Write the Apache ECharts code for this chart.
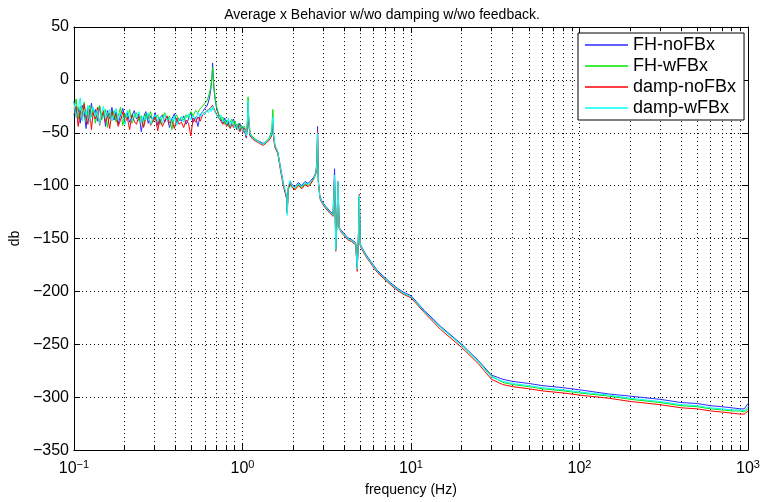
<!DOCTYPE html>
<html>
<head>
<meta charset="utf-8">
<title>Average x Behavior</title>
<script src="https://cdn.jsdelivr.net/npm/echarts@6/dist/echarts.min.js"></script>
<style>
  html, body { margin: 0; padding: 0; background: #fff; }
  #chart { width: 764px; height: 502px; }
</style>
</head>
<body>
<div id="chart"></div>
<script>
// frequency points (Hz), shared by all four traces
const freq = [
  0.100, 0.103, 0.106, 0.109, 0.112, 0.115, 0.118, 0.121, 0.124, 0.127,
  0.130, 0.134, 0.138, 0.142, 0.146, 0.150, 0.154, 0.158, 0.163, 0.168,
  0.173, 0.178, 0.183, 0.189, 0.195, 0.201, 0.207, 0.214, 0.221, 0.228,
  0.235, 0.243, 0.251, 0.259, 0.267, 0.276, 0.285, 0.294, 0.304, 0.314,
  0.324, 0.335, 0.346, 0.357, 0.369, 0.381, 0.394, 0.407, 0.420, 0.434,
  0.448, 0.463, 0.478, 0.494, 0.510, 0.527, 0.544, 0.562, 0.580, 0.598,
  0.614, 0.628, 0.642, 0.652, 0.660, 0.665, 0.670, 0.678, 0.690, 0.705,
  0.725, 0.745, 0.765, 0.785, 0.805, 0.825, 0.845, 0.865, 0.885, 0.905,
  0.925, 0.945, 0.965, 0.985, 1.005, 1.030, 1.055, 1.070, 1.080, 1.090,
  1.110, 1.150, 1.200, 1.260, 1.320, 1.380, 1.440, 1.490, 1.515, 1.530,
  1.560, 1.620, 1.680, 1.750, 1.800, 1.830, 1.845, 1.870, 1.920, 1.970,
  2.050, 2.150, 2.250, 2.350, 2.450, 2.550, 2.650, 2.730, 2.770, 2.790,
  2.820, 2.880, 2.950, 3.100, 3.300, 3.450, 3.520, 3.580, 3.640, 3.690,
  3.750, 3.850, 4.000, 4.200, 4.450, 4.700, 4.800, 4.870, 4.940, 5.000,
  5.100, 5.400, 5.800, 6.300, 6.900, 7.600, 8.300, 9.100, 10.00, 12.00,
  15.00, 20.00, 25.00, 30.00, 35.00, 40.00, 50.00, 60.00, 80.00, 100.0,
  150.0, 200.0, 300.0, 400.0, 500.0, 600.0, 700.0, 800.0, 900.0, 950.0,
  1000
]

// db values
const fhNoFb = [
  -20, -34, -26, -41, -24, -30, -46, -27, -36, -22,
  -33, -28, -39, -25, -35, -31, -44, -29, -37, -26,
  -38, -30, -42, -33, -27, -36, -31, -40, -34, -29,
  -37, -32, -49, -35, -30, -41, -34, -38, -31, -43,
  -36, -33, -40, -35, -45, -37, -32, -41, -36, -39,
  -34, -42, -37, -31, -40, -35, -44, -33, -30, -27,
  -25, -21, -14, -6, 3, 16, 5, -9, -20, -28,
  -34, -37, -41, -36, -43, -39, -45, -40, -37, -44,
  -42, -46, -41, -47, -44, -49, -55, -42, -22, -40,
  -52, -55, -57, -58, -60, -59, -56, -52, -40, -54,
  -62, -68, -82, -98, -108, -112, -125, -102, -96, -99,
  -101, -97, -100, -96, -98, -95, -92, -87, -75, -44,
  -95, -110, -114, -119, -124, -127, -84, -160, -132, -97,
  -140, -142, -145, -149, -151, -154, -178, -150, -110, -155,
  -158, -165, -172, -180, -186, -192, -197, -201, -204, -218,
  -233, -250, -265, -279, -283, -285, -287, -289, -291, -293,
  -297, -299, -302, -305, -306, -308, -309, -310, -311, -311,
  -306
]
const fhWFb = [
  -28, -18, -37, -25, -33, -21, -39, -30, -24, -35,
  -27, -41, -30, -24, -38, -33, -28, -45, -31, -36,
  -29, -40, -34, -26, -43, -32, -37, -28, -41, -35,
  -31, -39, -34, -44, -32, -37, -30, -40, -36, -33,
  -42, -35, -31, -38, -34, -47, -36, -33, -39, -35,
  -38, -33, -36, -30, -34, -29, -31, -27, -25, -22,
  -20, -16, -10, -4, 4, 12, 3, -8, -18, -26,
  -33, -38, -35, -42, -38, -44, -40, -37, -43, -39,
  -45, -41, -48, -43, -46, -44, -52, -38, -16, -35,
  -50, -54, -56, -59, -61, -58, -55, -48, -28, -50,
  -63, -70, -84, -100, -106, -110, -122, -104, -99, -102,
  -103, -99, -102, -98, -100, -97, -94, -89, -80, -52,
  -97, -111, -115, -120, -125, -128, -95, -158, -134, -98,
  -141, -143, -146, -150, -152, -155, -176, -151, -112, -156,
  -159, -166, -173, -181, -187, -193, -198, -202, -205, -219,
  -234, -251, -266, -280, -286, -288, -290, -292, -294, -296,
  -299, -302, -305, -308, -309, -311, -312, -313, -313, -314,
  -311
]
const dampNoFb = [
  -33, -25, -44, -29, -38, -23, -35, -42, -28, -47,
  -31, -37, -26, -43, -34, -29, -40, -33, -46, -30,
  -36, -32, -44, -38, -30, -41, -35, -47, -33, -39,
  -42, -34, -38, -45, -36, -33, -43, -39, -35, -48,
  -37, -44, -39, -34, -41, -38, -46, -36, -42, -40,
  -45, -38, -41, -53, -36, -40, -35, -39, -33, -31,
  -30, -28, -27, -26, -25, -24, -25, -27, -30, -33,
  -36, -39, -42, -38, -44, -41, -46, -42, -45, -43,
  -47, -43, -49, -45, -50, -46, -54, -45, -25, -42,
  -53, -56, -58, -60, -62, -60, -57, -53, -42, -55,
  -64, -69, -85, -101, -107, -113, -126, -103, -98, -101,
  -104, -100, -103, -99, -101, -98, -93, -88, -78, -48,
  -96, -112, -116, -121, -126, -129, -92, -162, -133, -96,
  -139, -144, -147, -151, -153, -156, -181, -152, -108, -157,
  -160, -167, -174, -182, -188, -194, -199, -203, -206, -220,
  -236, -253, -268, -283, -288, -290, -292, -294, -296, -298,
  -301, -304, -307, -310, -311, -313, -314, -315, -316, -316,
  -313
]
const dampWFb = [
  -22, -36, -27, -17, -39, -28, -33, -24, -40, -30,
  -26, -35, -29, -42, -31, -25, -37, -32, -28, -39,
  -33, -27, -38, -31, -36, -42, -29, -35, -39, -32,
  -36, -30, -40, -34, -38, -31, -42, -36, -33, -39,
  -35, -41, -33, -38, -36, -40, -34, -43, -37, -35,
  -40, -36, -32, -38, -34, -37, -31, -35, -30, -33,
  -29, -31, -27, -30, -26, -28, -25, -29, -31, -34,
  -37, -33, -40, -38, -42, -36, -44, -39, -41, -46,
  -43, -48, -44, -46, -49, -47, -53, -40, -20, -38,
  -51, -55, -57, -59, -61, -59, -56, -51, -35, -52,
  -62, -68, -83, -99, -105, -111, -128, -101, -95, -100,
  -102, -98, -101, -97, -99, -96, -93, -88, -77, -50,
  -96, -111, -115, -120, -125, -128, -90, -161, -135, -96,
  -140, -143, -146, -150, -152, -155, -179, -151, -109, -156,
  -159, -166, -173, -181, -187, -193, -198, -202, -205, -219,
  -234, -251, -266, -281, -285, -287, -289, -291, -293, -295,
  -298, -301, -304, -307, -308, -310, -311, -312, -312, -313,
  -309
]

const seriesNames = ['FH-noFBx', 'FH-wFBx', 'damp-noFBx', 'damp-wFBx']
const seriesValues = [fhNoFb, fhWFb, dampNoFb, dampWFb]
const seriesColors = ['#2b2bff', '#00e800', '#ff0000', '#00ffff']

// minor decade lines of the log grid
const minorFreq = [
  0.2, 0.3, 0.4, 0.5, 0.6, 0.7, 0.8, 0.9,
  2, 3, 4, 5, 6, 7, 8, 9,
  20, 30, 40, 50, 60, 70, 80, 90,
  200, 300, 400, 500, 600, 700, 800, 900
]
const yMin = -350
const yMax = 50

const FONT = 'Liberation Sans'
const dotted = { color: '#000', width: 1, type: [1, 3] }
const minus = (s) => String(s).replace('-', '\u2212')

const chart = echarts.init(document.getElementById('chart'))

const minorMarks = []
minorFreq.forEach((f) => {
  minorMarks.push({ xAxis: f, lineStyle: dotted })
  minorMarks.push([
    { coord: [f, yMin], lineStyle: { color: '#000', width: 1, type: 'solid' } },
    { coord: [f, yMin + 4] }
  ])
  minorMarks.push([
    { coord: [f, yMax], lineStyle: { color: '#000', width: 1, type: 'solid' } },
    { coord: [f, yMax - 4] }
  ])
})

const lineSeries = seriesNames.map((name, k) => ({
  name: name,
  type: 'line',
  data: freq.map((f, i) => [f, seriesValues[k][i]]),
  symbol: 'none',
  lineStyle: { color: seriesColors[k], width: 1 },
  itemStyle: { color: seriesColors[k] },
  z: 2 + k
}))

const axisLineStyle = { onZero: false, lineStyle: { color: '#000', width: 1 } }
const tickStyle = { show: true, inside: true, length: 6, lineStyle: { color: '#000' } }

const option = {
  animation: false,
  backgroundColor: '#fff',
  textStyle: { fontFamily: FONT },
  title: {
    text: 'Average x Behavior w/wo damping w/wo feedback.',
    left: 'center',
    top: 3,
    textStyle: { fontFamily: FONT, fontSize: 14, fontWeight: 'normal', color: '#000' }
  },
  grid: { left: 67, right: 16, top: 27, bottom: 49 },
  legend: {
    data: seriesNames,
    orient: 'vertical',
    left: 578,
    top: 33,
    icon: 'rect',
    itemWidth: 43,
    itemHeight: 1.5,
    itemGap: 3,
    padding: [3, 8, 3, 7],
    backgroundColor: '#fff',
    borderColor: '#000',
    borderWidth: 1,
    textStyle: { fontFamily: FONT, fontSize: 18, lineHeight: 18, color: '#000' }
  },
  xAxis: [
    {
      type: 'log',
      logBase: 10,
      min: 0.1,
      max: 1000,
      name: 'frequency (Hz)',
      nameLocation: 'middle',
      nameGap: 32,
      nameTextStyle: { fontFamily: FONT, fontSize: 14, color: '#000' },
      axisLine: axisLineStyle,
      axisTick: tickStyle,
      splitLine: { show: true, lineStyle: dotted },
      axisLabel: {
        margin: 9,
        formatter: (v) => '{b|10}{e|' + minus(Math.round(Math.log10(v))) + '}',
        rich: {
          b: { fontFamily: FONT, fontSize: 16, color: '#000', lineHeight: 18 },
          e: { fontFamily: FONT, fontSize: 11, color: '#000', verticalAlign: 'top', lineHeight: 18, padding: [0, 0, 8, 0] }
        }
      }
    },
    {
      type: 'log',
      logBase: 10,
      min: 0.1,
      max: 1000,
      position: 'top',
      axisLine: axisLineStyle,
      axisTick: tickStyle,
      axisLabel: { show: false },
      splitLine: { show: false }
    }
  ],
  yAxis: [
    {
      type: 'value',
      min: yMin,
      max: yMax,
      interval: 50,
      name: 'db',
      nameLocation: 'middle',
      nameGap: 50,
      nameTextStyle: { fontFamily: FONT, fontSize: 14, color: '#000' },
      axisLine: Object.assign({ show: true }, axisLineStyle),
      axisTick: tickStyle,
      splitLine: { show: true, lineStyle: dotted },
      axisLabel: {
        margin: 5,
        fontFamily: FONT,
        fontSize: 16,
        color: '#000',
        formatter: (v) => minus(v)
      }
    },
    {
      type: 'value',
      min: yMin,
      max: yMax,
      interval: 50,
      position: 'right',
      axisLine: Object.assign({ show: true }, axisLineStyle),
      axisTick: tickStyle,
      axisLabel: { show: false },
      splitLine: { show: false }
    }
  ],
  series: [
    {
      name: 'grid-minor',
      type: 'line',
      data: [],
      silent: true,
      markLine: {
        silent: true,
        symbol: 'none',
        z: 1,
        label: { show: false },
        emphasis: { disabled: true },
        data: minorMarks
      }
    }
  ].concat(lineSeries)
}

chart.setOption(option)

window.addEventListener('resize', () => chart.resize())
</script>
</body>
</html>
